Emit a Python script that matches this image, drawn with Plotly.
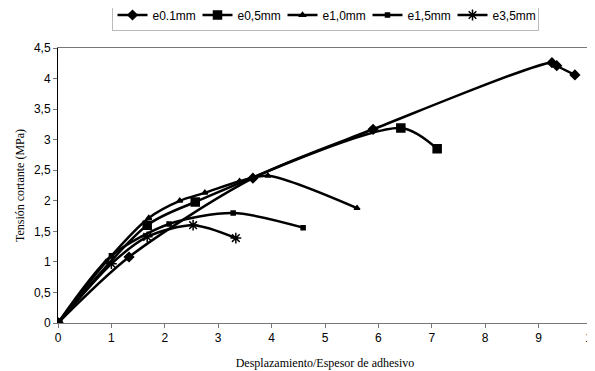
import plotly.graph_objects as go

x_e01 = [0, 1.33, 3.65, 5.9, 9.25, 9.34, 9.68]
y_e01 = [0, 1.08, 2.37, 3.17, 4.26, 4.21, 4.06]

x_e05 = [0, 1.67, 2.57, 6.42, 7.1]
y_e05 = [0, 1.6, 1.98, 3.19, 2.85]

x_e10 = [0, 0.9, 1.7, 2.28, 2.75, 3.4, 3.93, 5.6]
y_e10 = [0, 1.0, 1.72, 2.0, 2.13, 2.32, 2.41, 1.88]

x_e15 = [0, 1.0, 2.08, 3.28, 4.59]
y_e15 = [0, 1.1, 1.62, 1.8, 1.56]

x_e35 = [0, 1.0, 1.67, 2.53, 3.33]
y_e35 = [0, 0.97, 1.41, 1.6, 1.39]

series = [
    ("e0.1mm", x_e01, y_e01, "diamond", 7),
    ("e0,5mm", x_e05, y_e05, "square", 8),
    ("e1,0mm", x_e10, y_e10, "triangle-up", 5),
    ("e1,5mm", x_e15, y_e15, "square", 4),
    ("e3,5mm", x_e35, y_e35, "asterisk-open", 9),
]

fig = go.Figure()
for name, xs, ys, sym, sz in series:
    fig.add_trace(go.Scatter(
        x=xs, y=ys, name=name, mode="lines+markers",
        line=dict(color="black", width=2.5, shape="spline", smoothing=0.8),
        marker=dict(symbol=sym, size=sz, color="black",
                    line=dict(color="black", width=1.5)),
    ))

fig.update_layout(
    width=587, height=363,
    paper_bgcolor="white", plot_bgcolor="white",
    separators=",.",
    margin=dict(l=50, r=3, t=40, b=48, autoexpand=False),
    font=dict(family="Liberation Sans, Arial", size=11, color="black"),
    showlegend=True,
    legend=dict(orientation="h", x=0.5, xanchor="center", y=1.12, yanchor="middle",
                font=dict(family="Liberation Sans, Arial", size=12),
                bordercolor="#bbbbbb", borderwidth=1, itemwidth=30,
                entrywidth=40, tracegroupgap=0),
    xaxis=dict(range=[0, 10], dtick=1, tick0=0, showgrid=False, zeroline=False,
               automargin=False, ticklabeloverflow="allow",
               showline=True, linecolor="#777777", linewidth=1, mirror=True,
               ticks="outside", ticklen=4, tickcolor="#777777",
               tickfont=dict(size=12),
               title=dict(text="Desplazamiento/Espesor de adhesivo",
                          font=dict(family="Liberation Serif, Times New Roman", size=12),
                          standoff=14)),
    yaxis=dict(range=[0, 4.5], dtick=0.5, tick0=0, showgrid=False, zeroline=False,
               automargin=False,
               showline=True, linecolor="black", linewidth=1, mirror=True,
               ticks="outside", ticklen=4, tickcolor="#777777",
               tickfont=dict(size=12),
               title=dict(text="Tensión cortante (MPa)",
                          font=dict(family="Liberation Serif, Times New Roman", size=12),
                          standoff=6)),
)

fig.write_html("out.html")
